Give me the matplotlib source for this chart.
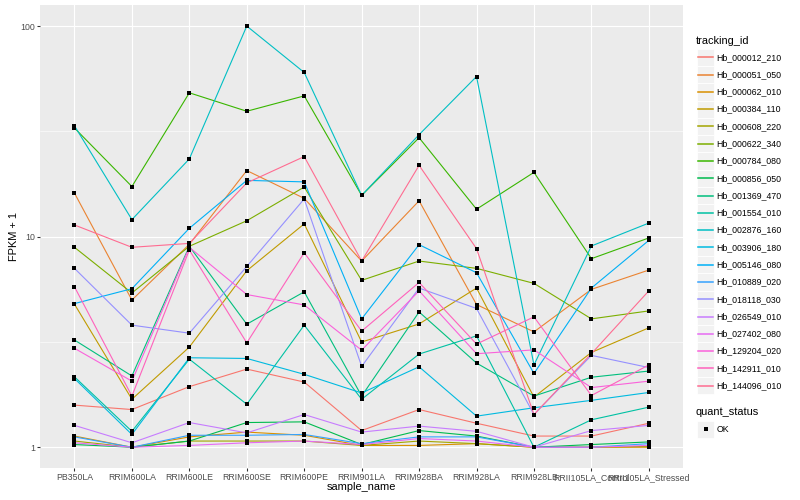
import matplotlib
matplotlib.use('Agg')
import matplotlib.pyplot as plt
from matplotlib.patches import Rectangle
from matplotlib.lines import Line2D
from matplotlib.ticker import FixedLocator, NullFormatter
import numpy as np

plt.rcParams['font.family'] = ['Liberation Sans', 'DejaVu Sans']

# ---------------- data ----------------
samples = ['PB350LA', 'RRIM600LA', 'RRIM600LE', 'RRIM600SE', 'RRIM600PE',
           'RRIM901LA', 'RRIM928BA', 'RRIM928LA', 'RRIM928LB',
           'RRII105LA_Control', 'RRII105LA_Stressed']

tracking_ids = ['Hb_000012_210', 'Hb_000051_050', 'Hb_000062_010', 'Hb_000384_110',
                'Hb_000608_220', 'Hb_000622_340', 'Hb_000784_080', 'Hb_000856_050',
                'Hb_001369_470', 'Hb_001554_010', 'Hb_002876_160', 'Hb_003906_180',
                'Hb_005146_080', 'Hb_010889_020', 'Hb_018118_030', 'Hb_026549_010',
                'Hb_027402_080', 'Hb_129204_020', 'Hb_142911_010', 'Hb_144096_010']

hb_000012_210 = [1.585, 1.51, 1.94, 2.35, 2.04, 1.20, 1.51, 1.30, 1.13, 1.13, 1.30]
hb_000051_050 = [16.1, 5.0, 9.2, 20.6, 15.2, 7.66, 14.8, 4.76, 3.53, 5.62, 6.94]
hb_000062_010 = [1.13, 1.0, 1.12, 1.18, 1.14, 1.02, 1.02, 1.04, 1.0, 1.0, 1.0]
hb_000384_110 = [4.78, 1.69, 2.99, 6.89, 11.5, 3.16, 3.85, 5.70, 1.73, 2.82, 3.69]
hb_000608_220 = [1.07, 1.0, 1.07, 1.07, 1.07, 1.02, 1.07, 1.04, 1.0, 1.0, 1.01]
hb_000622_340 = [8.9, 5.4, 9.0, 11.9, 17.2, 6.2, 7.66, 7.07, 6.0, 4.07, 4.44]
hb_000784_080 = [32.8, 17.3, 48.2, 39.4, 46.6, 15.7, 29.5, 13.5, 20.2, 7.86, 9.86]
hb_000856_050 = [1.03, 1.0, 1.07, 1.31, 1.32, 1.03, 1.20, 1.13, 1.0, 1.03, 1.06]
hb_001369_470 = [3.23, 2.18, 9.0, 3.84, 5.47, 1.75, 4.39, 2.51, 1.75, 2.15, 2.30]
hb_001554_010 = [2.16, 1.19, 2.62, 1.60, 3.80, 1.69, 2.77, 3.38, 1.0, 1.35, 1.55]
hb_002876_160 = [33.6, 12.05, 23.4, 100.0, 60.2, 15.7, 30.5, 57.6, 2.46, 9.03, 11.6]
hb_003906_180 = [2.12, 1.15, 2.66, 2.64, 2.22, 1.81, 2.41, 1.405, 1.54, 1.67, 1.82]
hb_005146_080 = [4.81, 5.66, 10.96, 18.5, 18.2, 4.07, 9.16, 6.74, 2.24, 5.70, 9.6]
hb_010889_020 = [1.12, 1.0, 1.14, 1.14, 1.15, 1.04, 1.12, 1.12, 1.0, 1.0, 1.04]
hb_018118_030 = [7.07, 3.80, 3.48, 7.22, 15.1, 2.42, 5.70, 4.56, 1.43, 2.73, 2.39]
hb_026549_010 = [1.27, 1.05, 1.31, 1.17, 1.43, 1.18, 1.26, 1.19, 1.0, 1.20, 1.27]
hb_027402_080 = [1.05, 1.0, 1.02, 1.05, 1.07, 1.03, 1.10, 1.07, 1.0, 1.0, 1.02]
hb_129204_020 = [2.95, 2.06, 8.9, 5.31, 4.74, 2.89, 5.53, 2.78, 2.9, 1.92, 2.06]
hb_142911_010 = [5.78, 1.75, 8.64, 3.13, 8.39, 3.56, 6.06, 3.09, 4.16, 1.76, 2.46]
hb_144096_010 = [11.36, 8.9, 9.29, 18.0, 24.0, 7.66, 21.8, 8.77, 1.43, 2.78, 5.53]

series_values = [hb_000012_210, hb_000051_050, hb_000062_010, hb_000384_110,
                 hb_000608_220, hb_000622_340, hb_000784_080, hb_000856_050,
                 hb_001369_470, hb_001554_010, hb_002876_160, hb_003906_180,
                 hb_005146_080, hb_010889_020, hb_018118_030, hb_026549_010,
                 hb_027402_080, hb_129204_020, hb_142911_010, hb_144096_010]

quant_levels = ['OK']

# ggplot2 default hue palette for 20 levels
colors = ["#F8766D", "#EA8331", "#D89000", "#C09B00", "#A3A500", "#7CAE00",
          "#39B600", "#00BB4E", "#00BF7D", "#00C1A3", "#00BFC4", "#00BAE0",
          "#00B0F6", "#35A2FF", "#9590FF", "#C77CFF", "#E76BF3", "#FA62DB",
          "#FF62BC", "#FF6C91"]

# ---------------- figure ----------------
W, H, DPI = 800, 500, 100
fig = plt.figure(figsize=(W / DPI, H / DPI), dpi=DPI)
fig.patch.set_facecolor('white')


def px_rect(x0, y0, w, h):
    return [x0 / W, 1 - (y0 + h) / H, w / W, h / H]


PL, PT, PR, PB = 40, 5, 683.3, 468.3
ax = fig.add_axes(px_rect(PL, PT, PR - PL, PB - PT))
ax.set_facecolor('#EBEBEB')
for s in ax.spines.values():
    s.set_visible(False)

x = np.arange(1, len(samples) + 1)
LW = 0.8
for vals, col in zip(series_values, colors):
    ax.plot(x, vals, color=col, lw=LW, zorder=2, solid_capstyle='butt')
for vals in series_values:
    ax.plot(x, vals, ls='none', marker='s', ms=2.6, color='black',
            markeredgewidth=0, zorder=3)

ax.set_yscale('log')
allv = np.concatenate([np.asarray(v, float) for v in series_values])
lo, hi = np.log10(allv.min()), np.log10(allv.max())
span = hi - lo
ax.set_ylim(10 ** (lo - 0.05 * span), 10 ** (hi + 0.05 * span))
ax.set_xlim(0.4, len(samples) + 0.6)

ax.set_xticks(x)
ax.set_xticklabels(samples)
ax.yaxis.set_major_locator(FixedLocator([1, 10, 100]))
ax.set_yticklabels(['1', '10', '100'])
ax.yaxis.set_minor_locator(FixedLocator([10 ** 0.5, 10 ** 1.5]))
ax.yaxis.set_minor_formatter(NullFormatter())
ax.xaxis.set_minor_locator(FixedLocator([]))

ax.set_axisbelow(True)
ax.grid(which='major', color='white', lw=0.8)
ax.grid(which='minor', axis='y', color='white', lw=0.4)

ax.tick_params(which='major', length=1.98, width=0.77, color='#333333',
               labelsize=6.3, labelcolor='#4D4D4D', pad=1.6)
ax.tick_params(which='minor', length=0)

fs_title = 7.9
fs_text = 6.3
fig.text((PL + PR) / 2 / W, 1 - 487 / H, 'sample_name', ha='center', va='center',
         fontsize=fs_title, color='black')
fig.text(14 / W, 1 - ((PT + PB) / 2) / H, 'FPKM + 1', ha='center', va='center',
         rotation=90, fontsize=fs_title, color='black')

# ---------------- legend (drawn in pixel space) ----------------
lax = fig.add_axes([0, 0, 1, 1], facecolor='none')
lax.set_xlim(0, W)
lax.set_ylim(H, 0)
lax.axis('off')

KX0, KW, KH = 697, 17.0, 17.28
lax.text(696, 40.7, 'tracking_id', ha='left', va='center', fontsize=fs_title)
first_center = 57.3
for i, (name, col) in enumerate(zip(tracking_ids, colors)):
    cy = first_center + i * KH
    lax.add_patch(Rectangle((KX0, cy - KH / 2), KW, KH, facecolor='#F2F2F2',
                            edgecolor='white', lw=0.6, zorder=1))
    lax.add_line(Line2D([KX0 + 0.8, KX0 + KW - 0.8], [cy, cy], color=col,
                        lw=1.1, zorder=3))
    lax.text(716.7, cy, name, ha='left', va='center', fontsize=fs_text, color='black')

lax.text(696, 412, 'quant_status', ha='left', va='center', fontsize=fs_title)
for j, lev in enumerate(quant_levels):
    cy = 429.3 + j * KH
    lax.add_patch(Rectangle((KX0, cy - KH / 2), KW, KH, facecolor='#F2F2F2',
                            edgecolor='white', lw=0.6, zorder=1))
    lax.add_line(Line2D([KX0 + KW / 2], [cy], ls='none', marker='s', ms=2.8,
                        color='black', markeredgewidth=0, zorder=3))
    lax.text(716.7, cy, lev, ha='left', va='center', fontsize=fs_text, color='black')

fig.savefig('out.png', dpi=DPI)
